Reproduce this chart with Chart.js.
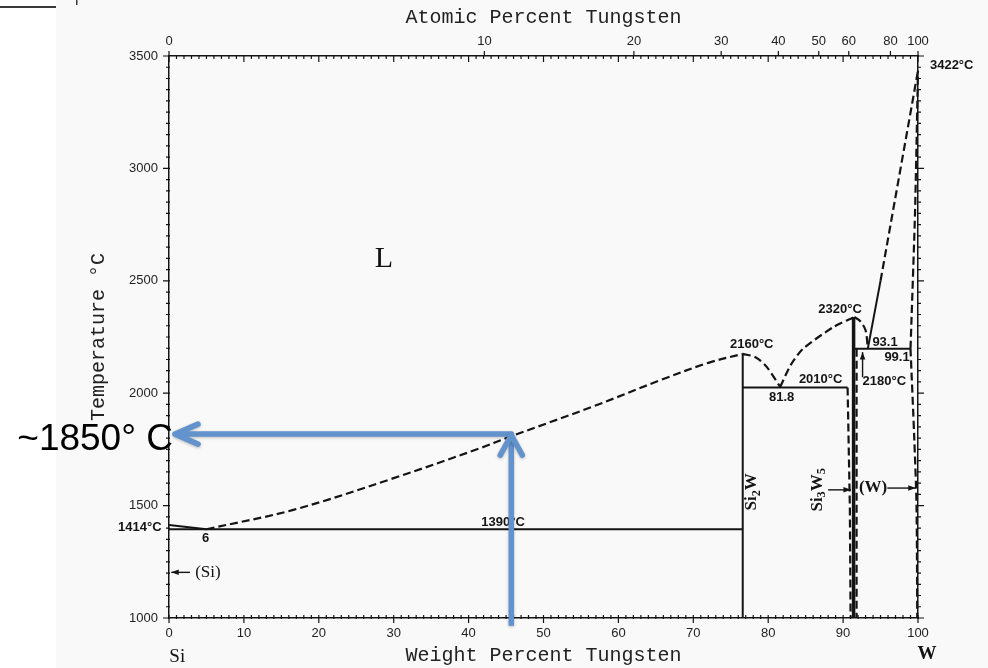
<!DOCTYPE html>
<html>
<head>
<meta charset="utf-8">
<script src="https://cdn.jsdelivr.net/npm/chart.js@4.4.1/dist/chart.umd.min.js"></script>
<style>
  html, body { margin: 0; padding: 0; background: #fff; }
  #wrap { width: 988px; height: 668px; }
</style>
</head>
<body>
<div id="wrap"><canvas id="chart" width="988" height="668"></canvas></div>
<script>
// Si-W phase diagram (weight % W vs temperature)

// tick labels
const atomicTicks = [0, 10, 20, 30, 40, 50, 60, 80, 100];

// phase boundaries, [wt% W, °C]
const siLiquidus      = [[0, 1414], [5, 1395]];
const si2wLiquidus    = [[5, 1395], [16.6, 1481], [29.9, 1621], [41.5, 1755], [45.5, 1806], [56.7, 1942], [65.6, 2058], [72, 2135], [76.6, 2175]];
const eutectic1390    = [[0, 1395], [76.6, 1395]];
const si2wLine        = [[76.6, 1000], [76.6, 2175]];
const si2wMeltRight   = [[76.6, 2175], [78.3, 2160], [79.8, 2117], [81.6, 2028]];
const eutectic2010    = [[76.6, 2025], [90.6, 2025]];
const si3w5LiqLeft    = [[81.6, 2028], [83.0, 2125], [84.6, 2196], [88.7, 2294], [91.5, 2339]];
const si3w5LiqRight   = [[91.5, 2339], [92.3, 2320], [93.0, 2280], [93.3, 2200]];
const si3w5Line       = [[91.4, 1000], [91.4, 2339]];
const si3w5EdgeLeft   = [[90.6, 2025], [90.9, 1500], [91.0, 1000]];
const si3w5EdgeRight  = [[91.8, 2198], [91.8, 1000]];
const eutectic2180    = [[91.5, 2198], [99.0, 2198]];
const wLiquidusSolid  = [[93.3, 2198], [95.0, 2500]];
const wLiquidusDashed = [[95.0, 2500], [100, 3435]];
const wSolidus        = [[99.0, 2198], [99.6, 2800], [100, 3435]];
const wSolvus         = [[99.0, 2198], [99.5, 1800], [99.8, 1500], [99.9, 1000]];

// the blue read-off arrows
const readWt = 45.7;
const readTemp = 1818;

const SANS = '"Liberation Sans", Arial, sans-serif';
const SERIF = '"Liberation Serif", "Times New Roman", serif';
const MONO = '"Liberation Mono", "DejaVu Sans Mono", monospace';
const INK = '#141414';

// atomic % -> weight % (Si 28.0855, W 183.84)
function atToWt(a) {
    const w = a * 183.84, s = (100 - a) * 28.0855;
    return 100 * w / (w + s);
}

function seg(points, opts) {
    return Object.assign({
        data: points.map(p => ({ x: p[0], y: p[1] })),
        showLine: true,
        pointRadius: 0,
        borderColor: INK,
        borderWidth: 2,
        tension: 0,
        clip: 8,
        xAxisID: 'x',
        yAxisID: 'y'
    }, opts || {});
}
const dashed = { borderDash: [8, 4], borderWidth: 2.2 };

const notes = [
    { text: 'L', wt: 28.7, temp: 2596, font: '30px ' + SERIF },
    { text: '1414°C', wt: -3.9, temp: 1405 },
    { text: '6', wt: 4.9, temp: 1352 },
    { text: '1390°C', wt: 44.6, temp: 1423 },
    { text: '2160°C', wt: 77.8, temp: 2217 },
    { text: '81.8', wt: 81.8, temp: 1982 },
    { text: '2010°C', wt: 87.0, temp: 2062 },
    { text: '2320°C', wt: 89.6, temp: 2373 },
    { text: '93.1', wt: 95.6, temp: 2226 },
    { text: '99.1', wt: 97.2, temp: 2160 },
    { text: '2180°C', wt: 95.5, temp: 2053 },
    { text: '3422°C', wt: 104.5, temp: 3456 },
    { text: '(Si)', wt: 5.2, temp: 1201, font: '17px ' + SERIF },
    { text: '(W)', wt: 94.0, temp: 1578, font: 'bold 17px ' + SERIF },
    { text: 'Si', wt: 1.1, temp: 825, font: '19px ' + SERIF },
    { text: 'W', wt: 101.2, temp: 839, font: 'bold 19px ' + SERIF }
];

const pointers = [
    { from: [2.8, 1203], to: [0.3, 1203] },
    { from: [88.0, 1570], to: [91.05, 1570] },
    { from: [95.9, 1578], to: [99.7, 1578] },
    { from: [92.6, 2071], to: [92.6, 2183] }
];

const backdrop = {
    id: 'backdrop',
    beforeDraw(chart) {
        const ctx = chart.ctx;
        ctx.save();
        ctx.fillStyle = '#ffffff';
        ctx.fillRect(0, 0, chart.width, chart.height);
        ctx.fillStyle = '#f9f9f9';
        ctx.fillRect(56, 0, chart.width - 56, chart.height);
        ctx.fillStyle = '#3a3a3a';
        ctx.fillRect(0, 6, 56, 2);
        ctx.fillRect(76, 0, 1.5, 5);
        ctx.restore();
    }
};

const tickMarks = {
    id: 'tickMarks',
    afterDraw(chart) {
        const { ctx, chartArea: a, scales } = chart;
        const x = scales.x, y = scales.y;
        ctx.save();
        ctx.strokeStyle = INK;
        ctx.lineWidth = 1.2;
        ctx.beginPath();
        for (let v = 0; v <= 100; v++) {
            const px = x.getPixelForValue(v);
            const major = v % 10 === 0;
            ctx.moveTo(px, a.bottom - 3);
            ctx.lineTo(px, a.bottom + (major ? 5 : 1));
            ctx.moveTo(px, a.top);
            ctx.lineTo(px, a.top + (major ? 6 : 3));
        }
        scales.x2.ticks.forEach(t => {
            const px = scales.x2.getPixelForValue(t.value);
            ctx.moveTo(px, a.top);
            ctx.lineTo(px, a.top - 5);
        });
        for (let v = 1000; v <= 3500; v += 50) {
            const py = y.getPixelForValue(v);
            const major = v % 500 === 0;
            ctx.moveTo(a.left - (major ? 6 : 3), py);
            ctx.lineTo(a.left + 1, py);
            ctx.moveTo(a.right - 1, py);
            ctx.lineTo(a.right + (major ? 6 : 3), py);
        }
        ctx.stroke();
        ctx.restore();
    }
};

function arrowHead(ctx, x1, y1, x2, y2, len, spread) {
    const ang = Math.atan2(y2 - y1, x2 - x1);
    ctx.beginPath();
    ctx.moveTo(x2, y2);
    ctx.lineTo(x2 - len * Math.cos(ang - spread), y2 - len * Math.sin(ang - spread));
    ctx.lineTo(x2 - len * Math.cos(ang + spread), y2 - len * Math.sin(ang + spread));
    ctx.closePath();
    ctx.fill();
}

function subText(ctx, parts, cx, cy, size) {
    // parts: [text, isSub]; drawn rotated to read bottom-to-top
    ctx.save();
    ctx.translate(cx, cy);
    ctx.rotate(-Math.PI / 2);
    let total = 0;
    parts.forEach(p => {
        ctx.font = 'bold ' + (p[1] ? size * 0.72 : size) + 'px ' + SERIF;
        total += ctx.measureText(p[0]).width;
    });
    let px = -total / 2;
    ctx.textAlign = 'left';
    ctx.textBaseline = 'alphabetic';
    parts.forEach(p => {
        ctx.font = 'bold ' + (p[1] ? size * 0.72 : size) + 'px ' + SERIF;
        ctx.fillText(p[0], px, p[1] ? size * 0.55 : size * 0.35);
        px += ctx.measureText(p[0]).width;
    });
    ctx.restore();
}

const annotations = {
    id: 'annotations',
    afterDraw(chart) {
        const { ctx, scales } = chart;
        const X = v => scales.x.getPixelForValue(v);
        const Y = v => scales.y.getPixelForValue(v);
        ctx.save();
        ctx.fillStyle = INK;
        ctx.textAlign = 'center';
        ctx.textBaseline = 'middle';
        notes.forEach(n => {
            ctx.font = n.font || 'bold 13px ' + SANS;
            ctx.fillText(n.text, X(n.wt), Y(n.temp));
        });
        subText(ctx, [['Si', false], ['2', true], ['W', false]], X(77.6), Y(1561), 17);
        subText(ctx, [['Si', false], ['3', true], ['W', false], ['5', true]], X(86.4), Y(1570), 17);

        ctx.strokeStyle = INK;
        ctx.lineWidth = 1.4;
        pointers.forEach(p => {
            const x1 = X(p.from[0]), y1 = Y(p.from[1]), x2 = X(p.to[0]), y2 = Y(p.to[1]);
            ctx.beginPath();
            ctx.moveTo(x1, y1);
            ctx.lineTo(x2, y2);
            ctx.stroke();
            arrowHead(ctx, x1, y1, x2, y2, 8, 0.35);
        });

        // blue read-off arrows
        const bx = X(readWt), by = Y(readTemp);
        const tipX = X(0.8), baseY = Y(966);
        ctx.shadowColor = 'rgba(0,0,0,0.25)';
        ctx.shadowBlur = 3;
        ctx.shadowOffsetY = 1;
        ctx.strokeStyle = '#6393cc';
        ctx.lineWidth = 5.5;
        ctx.lineCap = 'round';
        ctx.lineJoin = 'round';
        ctx.beginPath();
        ctx.moveTo(bx, by);
        ctx.lineTo(tipX, by);
        ctx.moveTo(tipX + 23, by - 10);
        ctx.lineTo(tipX, by);
        ctx.lineTo(tipX + 23, by + 10);
        ctx.stroke();
        ctx.lineCap = 'butt';
        ctx.beginPath();
        ctx.moveTo(bx, baseY);
        ctx.lineTo(bx, by + 1);
        ctx.stroke();
        ctx.lineCap = 'round';
        ctx.beginPath();
        ctx.moveTo(bx - 11, by + 21);
        ctx.lineTo(bx, by + 1);
        ctx.lineTo(bx + 11, by + 21);
        ctx.stroke();
        ctx.shadowColor = 'transparent';

        ctx.fillStyle = '#000';
        ctx.font = '37px ' + SANS;
        ctx.textAlign = 'right';
        ctx.textBaseline = 'alphabetic';
        ctx.fillText('~1850° C', tipX - 2, by + 16);
        ctx.restore();
    }
};

const border = { display: true, color: INK, width: 1.5 };
const tickFont = { family: SANS, size: 13 };

new Chart(document.getElementById('chart'), {
    type: 'scatter',
    data: {
        datasets: [
            seg(siLiquidus),
            seg(si2wLiquidus, Object.assign({ tension: 0.35 }, dashed)),
            seg(eutectic1390),
            seg(si2wLine),
            seg(si2wMeltRight, Object.assign({ tension: 0.3 }, dashed)),
            seg(eutectic2010),
            seg(si3w5LiqLeft, Object.assign({ tension: 0.25 }, dashed)),
            seg(si3w5LiqRight, Object.assign({ tension: 0.3 }, dashed)),
            seg(si3w5Line, { borderWidth: 3.5 }),
            seg(si3w5EdgeLeft, dashed),
            seg(si3w5EdgeRight, dashed),
            seg(eutectic2180),
            seg(wLiquidusSolid),
            seg(wLiquidusDashed, dashed),
            seg(wSolidus, Object.assign({ tension: 0.2 }, dashed)),
            seg(wSolvus, Object.assign({ tension: 0.3 }, dashed))
        ]
    },
    options: {
        responsive: false,
        animation: false,
        devicePixelRatio: 1,
        layout: { padding: 0 },
        plugins: {
            legend: { display: false },
            tooltip: { enabled: false }
        },
        scales: {
            x: {
                type: 'linear', position: 'bottom', min: 0, max: 100,
                grid: { display: false, drawTicks: false },
                border: border,
                ticks: { stepSize: 10, color: '#222', font: tickFont, padding: 8, maxRotation: 0 },
                title: { display: true, text: 'Weight Percent Tungsten', color: '#222',
                         font: { family: MONO, size: 20 }, padding: { top: 0, bottom: 0 } },
                afterFit: s => { s.height = 50; }
            },
            x2: {
                type: 'linear', position: 'top', min: 0, max: 100,
                grid: { display: false, drawTicks: false },
                border: border,
                afterBuildTicks: s => { s.ticks = atomicTicks.map(a => ({ value: atToWt(a) })); },
                ticks: { color: '#222', font: tickFont, padding: 7, autoSkip: false, maxRotation: 0,
                         callback: (v, i) => atomicTicks[i] },
                title: { display: true, text: 'Atomic Percent Tungsten', color: '#222',
                         font: { family: MONO, size: 20 }, padding: { top: 6, bottom: 0 } },
                afterFit: s => { s.height = 56; }
            },
            y: {
                type: 'linear', position: 'left', min: 1000, max: 3500,
                grid: { display: false, drawTicks: false },
                border: border,
                ticks: { stepSize: 500, color: '#222', font: tickFont, padding: 11,
                         callback: v => String(v) },
                title: { display: true, text: 'Temperature °C', color: '#222',
                         font: { family: MONO, size: 20 }, padding: { top: 87, bottom: 0 } },
                afterFit: s => { s.width = 169; }
            },
            y2: {
                type: 'linear', position: 'right', min: 1000, max: 3500,
                grid: { display: false, drawTicks: false },
                border: border,
                ticks: { display: false },
                afterFit: s => { s.width = 70; }
            }
        }
    },
    plugins: [backdrop, tickMarks, annotations]
});
</script>
</body>
</html>
